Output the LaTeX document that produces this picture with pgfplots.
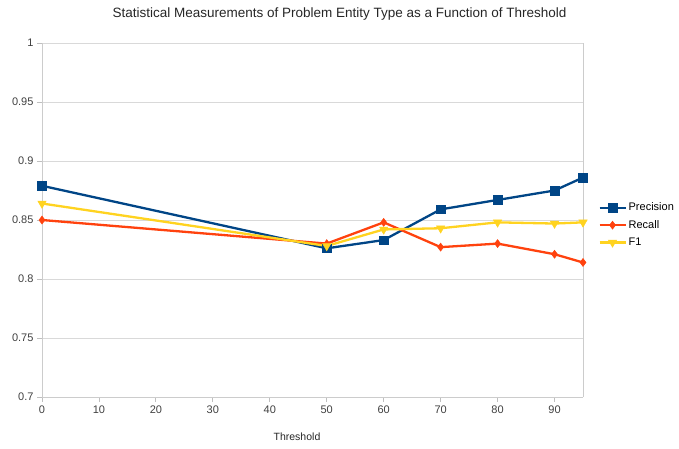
\documentclass[border=0pt]{standalone}
\usepackage{fontspec}
\setmainfont{Liberation Sans}
\usepackage{pgfplots}
\pgfplotsset{compat=1.18}
\definecolor{cprec}{HTML}{004586}
\definecolor{crec}{HTML}{FF420E}
\definecolor{cf1}{HTML}{FFD320}
\begin{document}
\begin{tikzpicture}[x=1pt,y=1pt]
\path (-42,-51) rectangle (637,397);
\begin{axis}[
  at={(0,0)}, anchor=south west,
  scale only axis, width=541pt, height=354pt,
  xmin=0, xmax=95, ymin=0.7, ymax=1,
  xtick={0,10,...,90}, ytick={0.7,0.75,...,1.0},
  yticklabels={0.7,0.75,0.8,0.85,0.9,0.95,1},
  /pgf/number format/assume math mode=true,
  tick label style={font=\fontsize{11}{13}\selectfont, text=black!75},
  ymajorgrids, grid style={gray!30, line width=0.8pt},
  axis line style={gray!40, line width=0.8pt},
  axis x line*=bottom, axis y line*=left,
  tick style={gray!50, line width=0.8pt},
  tick align=outside, major tick length=5pt,
  clip=false,
  legend style={at={(1.028,0.486)}, anchor=west, draw=none, fill=none,
    inner xsep=0pt, font=\fontsize{11}{13}\selectfont, row sep=4pt,
    nodes={inner xsep=2pt}},
  legend cell align=left,
  legend image code/.code={\draw[mark repeat=2,mark phase=2] plot coordinates {(0pt,0pt) (13pt,0pt) (26pt,0pt)};},
  every axis plot/.append style={line width=2.3pt},
]
\draw[gray!40, line width=0.8pt] (axis cs:95,0.7) -- (axis cs:95,1);
\addplot[cprec, mark=square*, mark size=4.3pt, mark options={line width=0.5pt}] coordinates {
(0,0.879) (50,0.826) (60,0.833) (70,0.859) (80,0.867) (90,0.875) (95,0.886)};
\addlegendentry{Precision}
\addplot[crec, mark=diamond*, mark size=4pt, mark options={line width=0.5pt}] coordinates {
(0,0.850) (50,0.830) (60,0.848) (70,0.827) (80,0.830) (90,0.821) (95,0.814)};
\addlegendentry{Recall}
\addplot[cf1, mark=triangle*, mark options={rotate=180, line width=0.5pt}, mark size=4.8pt] coordinates {
(0,0.864) (50,0.828) (60,0.842) (70,0.843) (80,0.848) (90,0.847) (95,0.848)};
\addlegendentry{F1}
\end{axis}
\node[font=\fontsize{13.5}{16}\selectfont, text=black!85] at (297.5,383) {Statistical Measurements of Problem Entity Type as a Function of Threshold};
\node[font=\fontsize{10.5}{12}\selectfont, text=black!85] at (255,-40) {Threshold};
\end{tikzpicture}
\end{document}
